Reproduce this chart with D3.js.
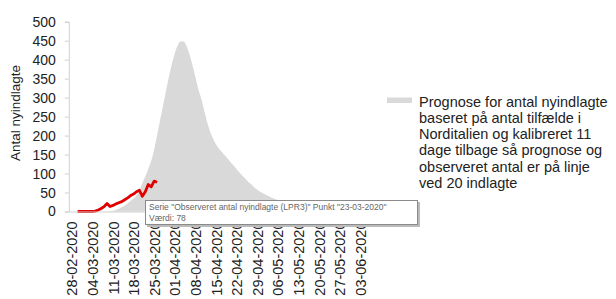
<!DOCTYPE html>
<html>
<head>
<meta charset="utf-8">
<script src="https://cdn.jsdelivr.net/npm/d3@7"></script>
<style>
  body { margin: 0; background: #fff; }
  svg { display: block; font-family: "Liberation Sans", Arial, sans-serif; }
</style>
</head>
<body>
<div id="chart"></div>
<script>
// category labels shown on the x axis (every 7th category)
const tickLabels = [
    "28-02-2020", "04-03-2020", "11-03-2020", "18-03-2020", "25-03-2020",
    "01-04-2020", "08-04-2020", "15-04-2020", "22-04-2020", "29-04-2020",
    "06-05-2020", "13-05-2020", "20-05-2020", "27-05-2020", "03-06-2020"
];
const labelStep = 7;
const yTicks = [0, 50, 100, 150, 200, 250, 300, 350, 400, 450, 500];

// observed admissions, starting at category 2
const observedStart = 2;
const observed = [0, 0, 0, 0, 0, 0, 1, 4, 8, 13, 21, 13, 16, 20, 23, 26, 31, 36, 42, 46, 52, 56, 40, 52, 71, 65, 80, 77];

// forecast, starting at category 12
const forecastStart = 12;
const forecast = [
    0, 1, 2, 4, 7, 11, 16, 21, 28, 34,
    42, 55, 75, 92, 112, 133, 163, 200, 240, 278,
    316, 354, 388, 416, 437, 448, 448, 436, 414, 386,
    355, 323, 298, 266, 236, 211, 192, 177, 166, 157,
    148, 139, 130, 121, 112, 103, 94, 86, 78, 71,
    64, 58, 52, 48, 44, 40, 36, 33, 30, 27,
    24, 21, 18, 16, 14, 12, 10, 8, 7, 6,
    5, 4, 3, 2, 2, 1, 1, 0
];

const legendLines = [
    "Prognose for antal nyindlagte",
    "baseret på antal tilfælde i",
    "Norditalien og kalibreret 11",
    "dage tilbage så prognose og",
    "observeret antal er på linje",
    "ved 20 indlagte"
];
const tooltipLines = [
    "Serie \"Observeret antal nyindlagte (LPR3)\" Punkt \"23-03-2020\"",
    "Værdi: 78"
];

const width = 616;
const height = 299;

const svg = d3.select("#chart")
    .append("svg")
    .attr("width", width)
    .attr("height", height);

const xScale = d3.scaleLinear()
    .domain([-1, 100])
    .range([68.8, 366]);

const yScale = d3.scaleLinear()
    .domain([0, 500])
    .range([211.5, 21.7]);

const forecastData = forecast.map((v, i) => ({ i: forecastStart + i, value: v }));
const observedData = observed.map((v, i) => ({ i: observedStart + i, value: v }));

const area = d3.area()
    .x(d => xScale(d.i))
    .y0(yScale(0))
    .y1(d => yScale(d.value))
    .curve(d3.curveMonotoneX);

svg.append("path")
    .datum(forecastData)
    .attr("fill", "#d9d9d9")
    .attr("d", area);

const line = d3.line()
    .x(d => xScale(d.i))
    .y(d => yScale(d.value));

svg.append("path")
    .datum(observedData)
    .attr("fill", "none")
    .attr("stroke", "#e00000")
    .attr("stroke-width", 2.8)
    .attr("stroke-linejoin", "round")
    .attr("d", line);

// y axis
const yAxis = d3.axisLeft(yScale)
    .tickValues(yTicks)
    .tickSize(4)
    .tickPadding(9);

const yg = svg.append("g")
    .attr("transform", `translate(${xScale(-1)}, 0)`)
    .call(yAxis);
yg.select(".domain").attr("stroke", "#d0d0d0");
yg.selectAll(".tick line").attr("stroke", "#d0d0d0");
yg.selectAll(".tick text")
    .attr("font-size", 14)
    .attr("fill", "#222");

// x axis
const xAxis = d3.axisBottom(xScale)
    .tickValues(tickLabels.map((d, k) => k * labelStep))
    .tickFormat((d, k) => tickLabels[k])
    .tickSize(0)
    .tickSizeOuter(0);

const xg = svg.append("g")
    .attr("transform", `translate(0, ${yScale(0)})`)
    .call(xAxis);
xg.select(".domain").attr("stroke", "#d0d0d0");
xg.selectAll(".tick text")
    .attr("font-size", 14.5)
    .attr("fill", "#222")
    .attr("transform", "rotate(-90)")
    .attr("text-anchor", "end")
    .attr("x", -10)
    .attr("y", 0)
    .attr("dy", "0.36em");

// y axis title
svg.append("text")
    .attr("transform", "translate(20, 113) rotate(-90)")
    .attr("text-anchor", "middle")
    .attr("font-size", 13.5)
    .attr("fill", "#222")
    .text("Antal nyindlagte");

// legend
svg.append("rect")
    .attr("x", 387)
    .attr("y", 97.5)
    .attr("width", 25)
    .attr("height", 5.5)
    .attr("fill", "#d9d9d9");

svg.append("g")
    .selectAll("text")
    .data(legendLines)
    .join("text")
    .attr("x", 419)
    .attr("y", (d, k) => 106.5 + k * 16.3)
    .attr("font-size", 14.5)
    .attr("fill", "#222")
    .text(d => d);

// tooltip left over from the screenshot
const tip = svg.append("g");
tip.append("rect")
    .attr("x", 147)
    .attr("y", 202)
    .attr("width", 273)
    .attr("height", 25)
    .attr("fill", "#bbb");
tip.append("rect")
    .attr("x", 145.5)
    .attr("y", 200.5)
    .attr("width", 272)
    .attr("height", 24)
    .attr("fill", "#fff")
    .attr("stroke", "#8a8a8a")
    .attr("stroke-width", 1);
tip.selectAll("text.tip")
    .data(tooltipLines)
    .join("text")
    .attr("class", "tip")
    .attr("x", 149)
    .attr("y", (d, k) => 209.5 + k * 11)
    .attr("font-size", 8.5)
    .attr("fill", "#666")
    .text(d => d);
</script>
</body>
</html>
